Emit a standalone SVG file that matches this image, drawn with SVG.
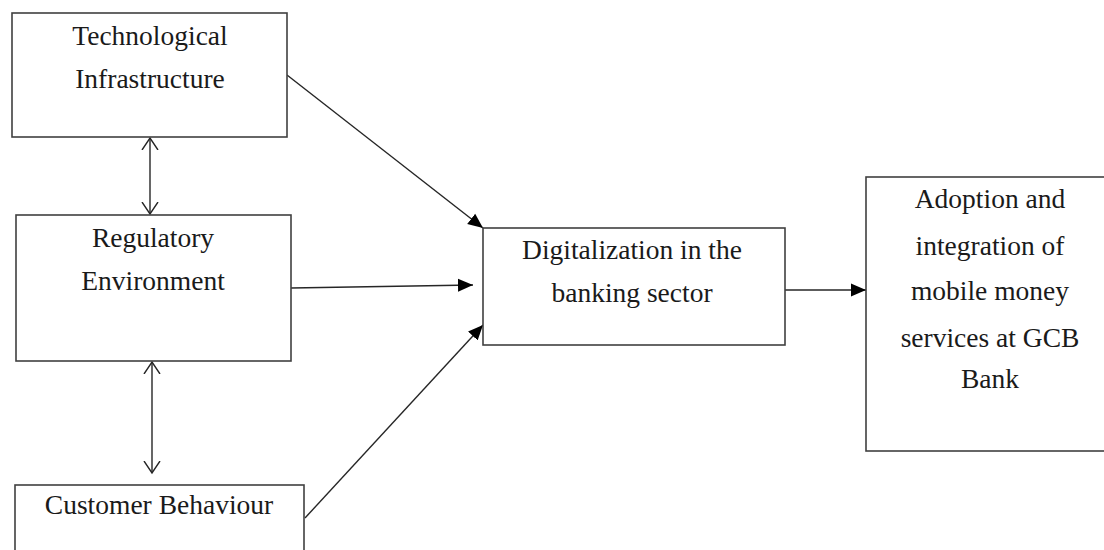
<svg xmlns="http://www.w3.org/2000/svg" width="1104" height="550" viewBox="0 0 1104 550">
<defs>
<style>
.box{fill:#fff;stroke:#404040;stroke-width:1.6}
.lbl{font-family:"Liberation Serif","Times New Roman",serif;font-size:27.5px;fill:#1a1a1a;text-anchor:middle}
.con{stroke:#262626;stroke-width:1.4;fill:none}
</style>
<marker id="fa" markerUnits="userSpaceOnUse" markerWidth="16" markerHeight="14" refX="15" refY="7" orient="auto">
<path d="M0,0.5 L15,7 L0,13.5 Z" fill="#000"/>
</marker>
<marker id="oa" markerUnits="userSpaceOnUse" markerWidth="14" markerHeight="20" refX="12" refY="10" orient="auto-start-reverse">
<path d="M0,2 L12,10 L0,18" fill="none" stroke="#262626" stroke-width="1.4"/>
</marker>
</defs>
<rect width="1104" height="550" fill="#fff"/>
<g id="connectors">
<line class="con" x1="287" y1="75" x2="483" y2="228" marker-end="url(#fa)"/>
<line class="con" x1="291" y1="288" x2="473" y2="285" marker-end="url(#fa)"/>
<line class="con" x1="305" y1="518" x2="483" y2="325" marker-end="url(#fa)"/>
<line class="con" x1="785" y1="290" x2="866" y2="290" marker-end="url(#fa)"/>
<line class="con" x1="150" y1="138" x2="150" y2="214" marker-start="url(#oa)" marker-end="url(#oa)"/>
<line class="con" x1="152" y1="362" x2="152" y2="473" marker-start="url(#oa)" marker-end="url(#oa)"/>
</g>
<g id="node-tech">
<rect class="box" x="12" y="13" width="275" height="124"/>
<text class="lbl" x="150" y="45">Technological</text>
<text class="lbl" x="150" y="88">Infrastructure</text>
</g>
<g id="node-reg">
<rect class="box" x="16" y="215" width="275" height="146"/>
<text class="lbl" x="153" y="247">Regulatory</text>
<text class="lbl" x="153" y="290">Environment</text>
</g>
<g id="node-cust">
<rect class="box" x="15" y="485" width="289" height="80"/>
<text class="lbl" x="159" y="514">Customer Behaviour</text>
</g>
<g id="node-digital">
<rect class="box" x="483" y="228" width="302" height="117"/>
<text class="lbl" x="632" y="259">Digitalization in the</text>
<text class="lbl" x="632" y="302">banking sector</text>
</g>
<g id="node-adoption">
<rect class="box" x="866" y="177" width="250" height="274"/>
<text class="lbl" x="990" y="208">Adoption and</text>
<text class="lbl" x="990" y="255">integration of</text>
<text class="lbl" x="990" y="300">mobile money</text>
<text class="lbl" x="990" y="347">services at GCB</text>
<text class="lbl" x="990" y="388">Bank</text>
</g>
</svg>
